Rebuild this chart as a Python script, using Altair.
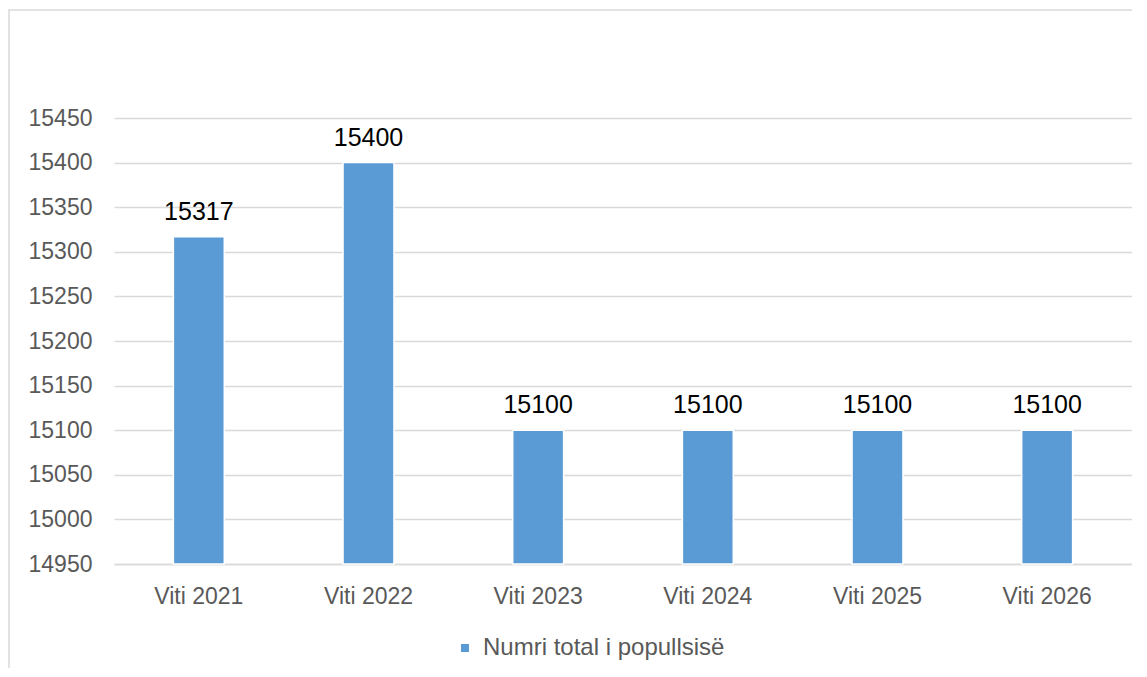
import altair as alt
import pandas as pd

categories = ["Viti 2021", "Viti 2022", "Viti 2023", "Viti 2024", "Viti 2025", "Viti 2026"]
values = [15317, 15400, 15100, 15100, 15100, 15100]
series_name = "Numri total i popullsisë"
y_ticks = [14950, 15000, 15050, 15100, 15150, 15200, 15250, 15300, 15350, 15400, 15450]

df = pd.DataFrame({"cat": categories, "val": values, "series": [series_name] * len(categories)})

W, H = 1018, 446
FONT = "Liberation Sans"

x_enc = alt.X("cat:N", sort=categories, title=None,
              scale=alt.Scale(paddingInner=0.7, paddingOuter=0.35),
              axis=alt.Axis(labelAngle=0, labelFontSize=23, labelColor="#595959", labelFont=FONT,
                            ticks=False, domainColor="#d9d9d9", domainWidth=1.5, labelPadding=21))
y_scale = alt.Scale(domain=[14950, 15450], zero=False, nice=False)

bars = alt.Chart(df).mark_bar(stroke="white", strokeWidth=1.5).encode(
    x=x_enc,
    y=alt.Y("val:Q", scale=y_scale, title=None,
            axis=alt.Axis(values=y_ticks, format="d", labelFontSize=23, labelColor="#595959",
                          labelFont=FONT, ticks=False, domain=False, gridColor="#d9d9d9",
                          gridWidth=1.5, labelPadding=22)),
    y2=alt.datum(14950),
    color=alt.Color("series:N", scale=alt.Scale(range=["#5B9BD5"]),
                    legend=alt.Legend(title=None, orient="none", legendX=339, legendY=518,
                                      symbolType="square", symbolSize=90, labelFontSize=24,
                                      labelFont=FONT, labelColor="#595959", labelOffset=6,
                                      labelLimit=0)),
)

labels = alt.Chart(df).mark_text(baseline="alphabetic", dy=-17, fontSize=25, font=FONT, color="#000000").encode(
    x=alt.X("cat:N", sort=categories),
    y=alt.Y("val:Q", scale=y_scale),
    text=alt.Text("val:Q", format="d"),
)

border = alt.Chart(pd.DataFrame({"a": [0]})).mark_rect(fill=None, stroke="#d9d9d9", strokeWidth=1.5).encode(
    x=alt.value(-105), x2=alt.value(W + 40), y=alt.value(-108), y2=alt.value(H + 200)
)

chart = alt.layer(border, bars, labels).properties(
    width=W, height=H,
    autosize=alt.AutoSizeParams(type="none"),
    padding={"left": 106, "top": 110, "right": 0, "bottom": 104},
    background="white",
).configure_view(stroke=None)

chart.save("out.html", embed_options={"renderer": "svg", "actions": False})
